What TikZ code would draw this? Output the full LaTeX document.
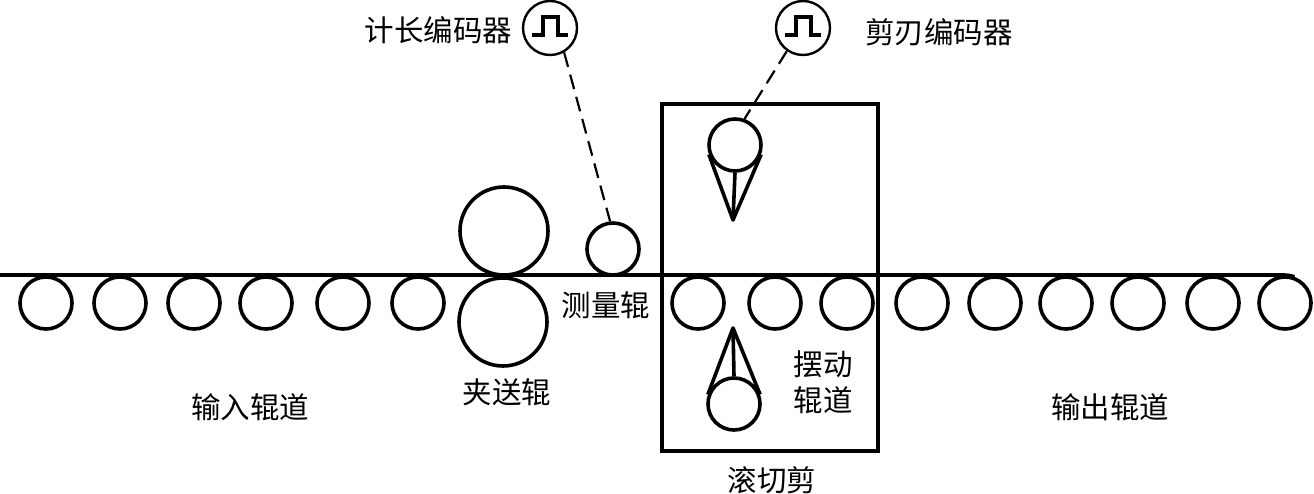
\documentclass[tikz,border=0pt]{standalone}
\usepackage{fontspec}
\setmainfont{Noto Sans CJK SC}
\usetikzlibrary{positioning}

\begin{document}
\begin{tikzpicture}[
  x=1pt,y=-1pt,
  node distance=8pt and 8pt,
  line width=3.6pt,
  roller/.style={draw,circle,inner sep=0pt,minimum size=52pt},
  pinch/.style={draw,circle,inner sep=0pt,minimum size=88pt},
  encoder/.style={draw,circle,line width=2.4pt,inner sep=0pt,minimum size=54pt},
  shearbox/.style={draw,line width=4pt,inner sep=0pt,minimum width=216pt,minimum height=347pt},
  caption/.style={font=\fontsize{29.5}{36}\selectfont,align=center,inner sep=0pt},
  pulse/.style={line width=4pt},
  signal/.style={line width=2.2pt,dash pattern=on 15pt off 8pt},
  blade/.style={line width=3.6pt,line join=round}
]
  \useasboundingbox (0,0) rectangle (1314,494);
  % table rollers
  \foreach \x [count=\i] in {46,120,194,266,343,418,698,775,847,922,995,1066,1138,1213,1285}
    \node[roller] (roll\i) at (\x,303) {};
  \node[pinch] (pinchtop) at (504,231) {};
  \node[pinch] (pinchbot) at (503,322) {};
  \node[roller] (measure) at (613,249) {};
  \node[shearbox] (shear) at (769.5,277.5) {};
  % strip
  \coordinate (stripstart) at (0,275);
  \coordinate (stripend) at (1282,275);
  \draw (stripstart) -- (stripend) to[out=0,in=160] (roll15.70);
  % encoders
  \node[encoder] (lengthenc) at (550,28) {};
  \node[encoder] (bladeenc) at (803,28) {};
  \draw[pulse] (532,35) -- (543,35) -- (543,17) -- (558,17) -- (558,35) -- (568,35);
  \draw[pulse] (785,35) -- (796,35) -- (796,17) -- (811,17) -- (811,35) -- (821,35);
  % blades
  \node[roller] (upper) at (735,145) {};
  \node[roller] (lower) at (734,404) {};
  \coordinate (uppertip) at (733,220);
  \coordinate (lowertip) at (733,328);
  \draw[blade] (upper.200) -- (uppertip) -- (upper.-20);
  \draw[blade] (upper.south) -- (uppertip);
  \draw[blade] (lower.160) -- (lowertip) -- (lower.20);
  \draw[blade] (lower.north) -- (lowertip);
  % dashed links
  \draw[signal] (lengthenc.-60) -- (measure.96);
  \draw[signal] (bladeenc.-125) -- (upper.70);
  % labels
  \node[caption,left=8pt of lengthenc,yshift=-2pt] (lengthlabel) {计长编码器};
  \node[caption,right=32pt of bladeenc,yshift=-4pt] (bladelabel) {剪刃编码器};
  \node[caption] (measurelabel) at (606,305) {测量辊};
  \node[caption] (pinchlabel) at (507,392) {夹送辊};
  \node[caption] (inlabel) at (250,407) {输入辊道};
  \node[caption] (swinglabel) at (823,382) {摆动\\辊道};
  \node[caption] (outlabel) at (1110,407) {输出辊道};
  \node[caption] (shearlabel) at (772,480) {滚切剪};
\end{tikzpicture}
\end{document}
